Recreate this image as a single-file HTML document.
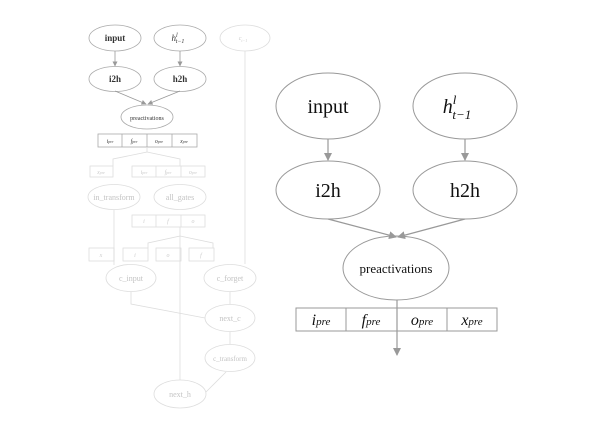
<!DOCTYPE html>
<html><head><style>html,body{margin:0;padding:0;background:#fff;}svg{display:block;}</style></head>
<body>
<svg width="600" height="424" viewBox="0 0 600 424" xmlns="http://www.w3.org/2000/svg" font-family="Liberation Serif, serif">
<defs>
<marker id="a" markerWidth="8" markerHeight="8" refX="7" refY="4" orient="auto" markerUnits="userSpaceOnUse"><path d="M0,0 L8,4 L0,8 z" fill="#999"/></marker>
<marker id="s" markerWidth="5" markerHeight="5" refX="4.5" refY="2.5" orient="auto" markerUnits="userSpaceOnUse"><path d="M0,0 L5,2.5 L0,5 z" fill="#999"/></marker>
</defs>
<!-- left small dark part -->
<g stroke="#aaa" fill="none" stroke-width="0.8">
<ellipse cx="115" cy="38" rx="26" ry="13"/>
<ellipse cx="180" cy="38" rx="26" ry="13"/>
<ellipse cx="115" cy="79" rx="26" ry="12.5"/>
<ellipse cx="180" cy="79" rx="26" ry="12.5"/>
<ellipse cx="147" cy="117" rx="26" ry="12"/>
<rect x="98" y="134" width="99" height="13"/>
<line x1="122" y1="134" x2="122" y2="147"/><line x1="147" y1="134" x2="147" y2="147"/><line x1="172" y1="134" x2="172" y2="147"/>
</g>
<g stroke="#999" stroke-width="0.8">
<line x1="115" y1="51" x2="115" y2="66" marker-end="url(#s)"/>
<line x1="180" y1="51" x2="180" y2="66" marker-end="url(#s)"/>
<line x1="115" y1="91" x2="146" y2="104" marker-end="url(#s)"/>
<line x1="180" y1="91" x2="148" y2="104" marker-end="url(#s)"/>
</g>
<g font-size="9" text-anchor="middle" fill="#333" font-weight="bold">
<text x="115" y="41">input</text>
<text x="115" y="82">i2h</text><text x="180" y="82">h2h</text>
</g>
<text x="178" y="41" font-size="9" font-style="italic" text-anchor="middle" fill="#333">h<tspan font-size="6" dy="-4">l</tspan><tspan font-size="6" dx="-2" dy="6">t−1</tspan></text>
<text x="147" y="120" font-size="6" text-anchor="middle" fill="#333">preactivations</text>
<g font-size="6" font-style="italic" text-anchor="middle" fill="#444">
<text x="110" y="143">i<tspan font-size="4">pre</tspan></text><text x="134" y="143">f<tspan font-size="4">pre</tspan></text>
<text x="159" y="143">o<tspan font-size="4">pre</tspan></text><text x="184" y="143">x<tspan font-size="4">pre</tspan></text>
</g>
<!-- light part -->
<g stroke="#ddd" fill="none" stroke-width="0.8">
<ellipse cx="245" cy="38" rx="25" ry="13"/>
<line x1="245" y1="51" x2="245" y2="264"/>
<path d="M147 147 L147 152 L113 159 L113 166 M147 152 L180 159 L180 166"/>
<rect x="90" y="166" width="23" height="11"/>
<rect x="132" y="166" width="73" height="11"/><line x1="156" y1="166" x2="156" y2="177"/><line x1="181" y1="166" x2="181" y2="177"/>
<ellipse cx="114" cy="197" rx="26" ry="12.5"/>
<ellipse cx="180" cy="197" rx="26" ry="12.5"/>
<rect x="132" y="215" width="73" height="12"/><line x1="156" y1="215" x2="156" y2="227"/><line x1="181" y1="215" x2="181" y2="227"/>
<path d="M180 227 L180 236 L148 243 L148 248 M180 236 L213 243 L213 248"/>
<line x1="114" y1="210" x2="114" y2="265"/>
<rect x="89" y="248" width="25" height="13"/><rect x="123" y="248" width="25" height="13"/>
<rect x="156" y="248" width="25" height="13"/><rect x="189" y="248" width="25" height="13"/>
<line x1="180" y1="236" x2="180" y2="380"/>
<ellipse cx="131" cy="278" rx="25" ry="13.5"/>
<ellipse cx="230" cy="278" rx="26" ry="13.5"/>
<ellipse cx="230" cy="318" rx="25" ry="13.5"/>
<ellipse cx="230" cy="358" rx="25" ry="13.5"/>
<ellipse cx="180" cy="394" rx="26" ry="14"/>
<path d="M131 292 L131 304 L205 318"/>
<line x1="230" y1="292" x2="230" y2="304"/>
<line x1="230" y1="332" x2="230" y2="344"/>
<line x1="226" y1="372" x2="206" y2="392"/>
</g>
<g font-size="8" text-anchor="middle" fill="#c4c4c4">
<text x="114" y="200">in_transform</text><text x="180" y="200">all_gates</text>
<text x="131" y="281">c_input</text><text x="230" y="281">c_forget</text>
<text x="230" y="321">next_c</text><text x="230" y="361" font-size="7">c_transform</text>
<text x="180" y="397">next_h</text>
</g>
<g font-size="6" font-style="italic" text-anchor="middle" fill="#ccc">
<text x="101" y="174">x<tspan font-size="4">pre</tspan></text>
<text x="144" y="174">i<tspan font-size="4">pre</tspan></text><text x="168" y="174">f<tspan font-size="4">pre</tspan></text><text x="193" y="174">o<tspan font-size="4">pre</tspan></text>
<text x="144" y="223">i</text><text x="168" y="223">f</text><text x="193" y="223">o</text>
<text x="101" y="257">x</text><text x="135" y="257">i</text><text x="168" y="257">o</text><text x="201" y="257">f</text>
<text x="243" y="40">c<tspan font-size="4" dy="2">t−1</tspan></text>
</g>
<!-- right big part -->
<g stroke="#999" fill="none" stroke-width="1">
<ellipse cx="328" cy="106" rx="52" ry="33"/>
<ellipse cx="465" cy="106" rx="52" ry="33"/>
<ellipse cx="328" cy="190" rx="52" ry="29"/>
<ellipse cx="465" cy="190" rx="52" ry="29"/>
<ellipse cx="396" cy="268" rx="53" ry="32"/>
<rect x="296" y="308" width="201" height="23"/>
<line x1="346" y1="308" x2="346" y2="331"/><line x1="397" y1="308" x2="397" y2="331"/><line x1="447" y1="308" x2="447" y2="331"/>
</g>
<g stroke="#999" stroke-width="1.2">
<line x1="328" y1="139" x2="328" y2="160" marker-end="url(#a)"/>
<line x1="465" y1="139" x2="465" y2="160" marker-end="url(#a)"/>
<line x1="328" y1="219" x2="396" y2="237" marker-end="url(#a)"/>
<line x1="465" y1="219" x2="398" y2="237" marker-end="url(#a)"/>
<line x1="397" y1="300" x2="397" y2="355" marker-end="url(#a)"/>
</g>
<g font-size="20" text-anchor="middle" fill="#111">
<text x="328" y="113">input</text>
<text x="328" y="197">i2h</text><text x="465" y="197">h2h</text>
</g>
<text x="457" y="113" font-size="20" font-style="italic" text-anchor="middle" fill="#111">h<tspan font-size="13" dy="-9">l</tspan><tspan font-size="13" dx="-4" dy="15">t−1</tspan></text>
<text x="396" y="273" font-size="13" text-anchor="middle" fill="#111">preactivations</text>
<g font-size="16" font-style="italic" text-anchor="middle" fill="#111">
<text x="321" y="325">i<tspan font-size="11">pre</tspan></text>
<text x="371" y="325">f<tspan font-size="11">pre</tspan></text>
<text x="422" y="325">o<tspan font-size="11">pre</tspan></text>
<text x="472" y="325">x<tspan font-size="11">pre</tspan></text>
</g>
</svg>
</body></html>
